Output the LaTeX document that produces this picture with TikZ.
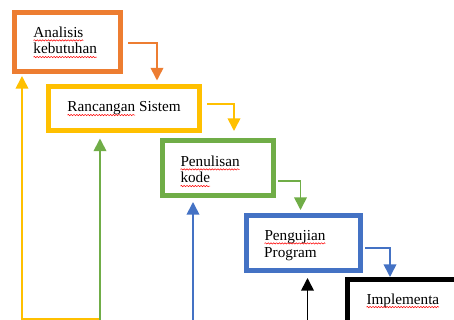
\documentclass[tikz,border=0pt]{standalone}
\usepackage{fontspec}
\setmainfont{Liberation Serif}
\usepackage{xcolor}
\usetikzlibrary{arrows.meta,calc,decorations.pathmorphing}
\definecolor{cOra}{HTML}{ED7D31}
\definecolor{cYel}{HTML}{FFC000}
\definecolor{cGrn}{HTML}{70AD47}
\definecolor{cBlu}{HTML}{4472C4}
% red wavy underline (spell check marks)
\newcommand{\spell}[1]{\tikz[baseline=(w.base)]{\node[inner sep=0pt,outer sep=0pt] (w) {#1};
  \draw[red,line width=0.45pt,decorate,decoration={snake,amplitude=0.55pt,segment length=2.4pt}]
    ([yshift=-2.6pt]w.base west) -- ([yshift=-2.6pt]w.base east);}}

\begin{document}
\begin{tikzpicture}[x=0.03cm,y=-0.03cm,
  phase/.style={draw,line width=1.5mm,inner sep=0pt},
  txt/.style={anchor=base west,inner sep=0pt,align=left,font=\fontsize{13}{14.2}\selectfont},
  ar/.style={-{Triangle[length=3.8mm,width=3.8mm]},line width=0.5mm}]
  \useasboundingbox (0,0) rectangle (454,320);
  \clip (0,0) rectangle (454,320);
  % stages
  \node[phase,draw=cOra,minimum width=3.18cm,minimum height=1.755cm] (analisis) at (67.5,42.25) {};
  \node[phase,draw=cYel,minimum width=4.53cm,minimum height=1.305cm] (rancangan) at (124,108.75) {};
  \node[phase,draw=cGrn,minimum width=3.33cm,minimum height=1.65cm] (penulisan) at (218,168) {};
  \node[phase,draw=cBlu,minimum width=3.435cm,minimum height=1.65cm] (pengujian) at (303.25,243) {};
  \node[phase,draw=black,minimum width=3.9cm,minimum height=1.8cm] (implementasi) at (412.5,309.5) {};
  % labels (base = last line)
  \node[txt] (tAnalisis) at (33,54) {\spell{Analisis}\\\spell{kebutuhan}};
  \node[txt] (tRancangan) at (67,112) {\spell{Rancangan} Sistem};
  \node[txt] (tPenulisan) at (180,183) {\spell{Penulisan}\\\spell{kode}};
  \node[txt] (tPengujian) at (264,257) {\spell{Pengujian}\\Program};
  \node[txt] (tImplementasi) at (366,304) {\spell{Implementa}};
  % forward flow
  \draw[ar,cOra] ($(analisis.east)+(5,1)$) -| ($(rancangan.north west)+(111,-4)$);
  \draw[ar,cYel] ($(rancangan.east)+(5,-5)$) -| ($(penulisan.north west)+(74,-7)$);
  \draw[ar,cGrn] ($(penulisan.east)+(2,13)$) -| ($(pengujian.north west)+(57,-3)$);
  \draw[ar,cBlu] ($(pengujian.east)+(2,5)$) -| ($(implementasi.north west)+(45,0)$);
  % feedback
  \coordinate (bY) at (100,319);
  \coordinate (bG) at (193,320.5);
  \coordinate (bB) at (307,320.5);
  \coordinate (bK) at (347,320.5);
  \draw[ar,cYel] (bY) -| ($(analisis.south west)+(10,2)$);
  \draw[ar,cGrn] (bG) -| ($(rancangan.south west)+(54,5.5)$);
  \draw[ar,cBlu] (bB) -| ($(penulisan.south west)+(33,4)$);
  \draw[ar,black] (bK) -| ($(pengujian.south west)+(64,5)$);
\end{tikzpicture}
\end{document}
